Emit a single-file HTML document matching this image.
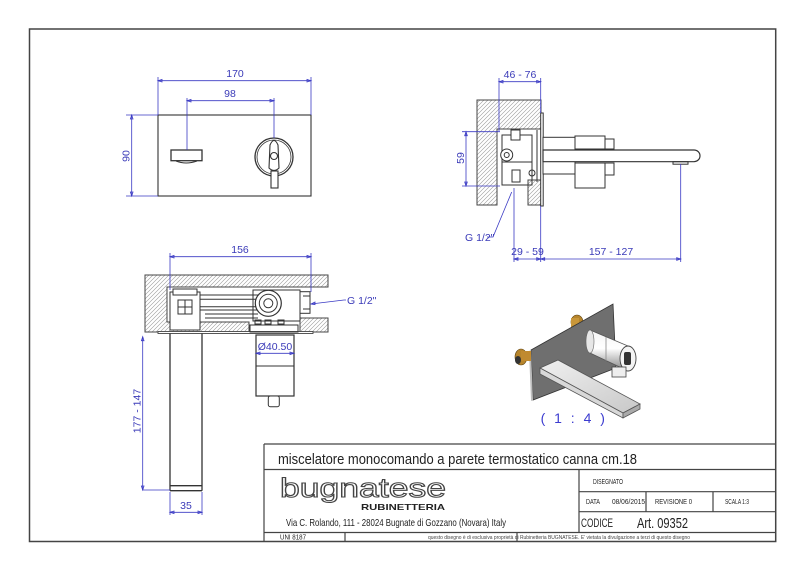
<!DOCTYPE html>
<html><head><meta charset="utf-8"><style>
html,body{margin:0;padding:0;background:#fff;}
svg{display:block;}
text{font-family:"Liberation Sans",sans-serif;}
</style></head><body>
<svg width="800" height="566" viewBox="0 0 800 566" xmlns="http://www.w3.org/2000/svg">
<defs>
<pattern id="h" patternUnits="userSpaceOnUse" width="4" height="4">
<path d="M-1,1 l2,-2 M0,4 l4,-4 M3,5 l2,-2" stroke="#9a9a9a" stroke-width="0.6"/>
</pattern>
<linearGradient id="cyl" x1="0" y1="0" x2="0" y2="1">
<stop offset="0" stop-color="#f4f4f4"/><stop offset="0.45" stop-color="#ffffff"/><stop offset="0.8" stop-color="#b0b0b0"/><stop offset="1" stop-color="#808080"/>
</linearGradient>
<linearGradient id="sp" x1="0" y1="0" x2="1" y2="1">
<stop offset="0" stop-color="#f0f0f0"/><stop offset="1" stop-color="#c8c8c8"/>
</linearGradient>
</defs>

<!-- frame -->
<rect x="29.5" y="29" width="746.2" height="512.5" fill="none" stroke="#444" stroke-width="1.5"/>

<!-- ================= FRONT VIEW ================= -->
<g stroke="#333" fill="none" stroke-width="1.1">
<rect x="158" y="115" width="153" height="81"/>
<rect x="171" y="150" width="31" height="10.7" stroke-width="1.3"/>
<path d="M176,161 Q186,165 197,161" stroke-width="1"/>
<circle cx="274" cy="157" r="19" stroke-width="1.3"/>
<circle cx="274" cy="157" r="17" stroke-width="0.8"/>
<path d="M270,145 Q274,136 278,145 L279,168 Q274,173 269,168 Z" fill="#fff"/>
<circle cx="274" cy="156" r="3.5"/>
<rect x="271" y="171" width="7" height="17" fill="#fff"/>
</g>
<g stroke="#3a3ac4" stroke-width="0.8" fill="none">
<path d="M158,77 V115 M311,77 V115 M158,80.7 H311"/>
<path d="M187,98 V150 M274,98 V138 M187,100.7 H274"/>
<path d="M126,115 H158 M126,196 H158 M131.7,115 V196"/>
<path d="M158,80.7 l4,-1.3 v2.6 z M311,80.7 l-4,-1.3 v2.6 z M187,100.7 l4,-1.3 v2.6 z M274,100.7 l-4,-1.3 v2.6 z M131.7,115 l-1.3,4 h2.6 z M131.7,196 l-1.3,-4 h2.6 z"/>
</g>
<g fill="#3a3ab8" font-size="10.5">
<text x="235" y="77" text-anchor="middle">170</text>
<text x="230" y="97" text-anchor="middle">98</text>
<text transform="translate(129.5,156) rotate(-90)" text-anchor="middle">90</text>
</g>

<!-- ================= SIDE VIEW ================= -->
<path d="M477,100 H541 V129 H497 V205 H477 Z" fill="url(#h)" stroke="#444" stroke-width="1"/>
<rect x="528" y="180" width="13" height="25" fill="url(#h)" stroke="#444" stroke-width="1"/>
<g stroke="#333" fill="none" stroke-width="1">
<rect x="540.7" y="113" width="2.5" height="93" fill="#fff"/>
<rect x="502" y="135" width="30" height="50"/>
<rect x="511" y="130" width="9" height="10" fill="#fff"/>
<circle cx="506.7" cy="155" r="6" fill="#fff"/>
<circle cx="506.7" cy="155" r="2.5"/>
<rect x="512" y="170" width="8" height="12"/>
<circle cx="532" cy="173" r="3"/>
<path d="M537,130 V182 M502,162 H532"/>
<rect x="543" y="137.3" width="32" height="36.7" fill="#fff"/>
<rect x="575" y="136" width="30" height="13" fill="#fff"/>
<rect x="575" y="163" width="30" height="25" fill="#fff"/>
<rect x="605" y="139" width="9" height="10" fill="#fff"/>
<rect x="605" y="163" width="9" height="12" fill="#fff"/>
<path d="M543,150 H694 A6,5.85 0 0 1 694,161.7 H543 Z" fill="#fff" stroke-width="1.2"/>
<rect x="673" y="161.7" width="15" height="2.5"/>
</g>
<g stroke="#3a3ac4" stroke-width="0.8" fill="none">
<path d="M499,78 V131 M540.7,78 V113 M499,81.7 H540.7"/>
<path d="M462,131.7 H500 M462,186 H500 M466,131.7 V186"/>
<path d="M514,188 V262 M540.7,206 V262 M680.7,164 V262 M514,259 H680.7"/>
<path d="M487,237 H493 L511.7,192"/>
<path d="M499,81.7 l4,-1.3 v2.6 z M540.7,81.7 l-4,-1.3 v2.6 z M466,131.7 l-1.3,4 h2.6 z M466,186 l-1.3,-4 h2.6 z M514,259 l4,-1.3 v2.6 z M540.7,259 l-4,-1.3 v2.6 z M540.7,259 l4,-1.3 v2.6 z M680.7,259 l-4,-1.3 v2.6 z"/>
</g>
<g fill="#3a3ab8" font-size="10.5">
<text x="520" y="78" text-anchor="middle">46 - 76</text>
<text transform="translate(464,158) rotate(-90)" text-anchor="middle">59</text>
<text x="465" y="241">G 1/2"</text>
<text x="527.5" y="255" text-anchor="middle">29 - 59</text>
<text x="611" y="255" text-anchor="middle">157 - 127</text>
</g>

<!-- ================= BOTTOM VIEW ================= -->
<path d="M145,275 H328 V287 H167 V322 H249 V332 H145 Z" fill="url(#h)" stroke="#444" stroke-width="1"/>
<rect x="300" y="318" width="28" height="14" fill="url(#h)" stroke="#444" stroke-width="1"/>
<rect x="158" y="331.5" width="155" height="2" fill="#fff" stroke="#444" stroke-width="0.9"/>
<g stroke="#333" fill="none" stroke-width="1">
<rect x="170" y="292" width="30" height="38" fill="#fff"/>
<rect x="173" y="289" width="24" height="6" fill="#fff"/>
<rect x="178" y="300" width="14" height="14"/>
<path d="M185,300 V314 M178,307 H192"/>
<path d="M200,295 H258 M200,299.3 H258 M200,306.7 H258 M200,310 H258 M205,314 H258 M205,318 H258"/>
<rect x="253" y="290" width="47" height="31"/>
<circle cx="268.3" cy="303.3" r="13" fill="#fff" stroke-width="1.2"/>
<circle cx="268.3" cy="303.3" r="9"/>
<circle cx="268.3" cy="303.3" r="4.5"/>
<rect x="300" y="291.7" width="10" height="21.6" fill="#fff"/>
<path d="M303,296 H310 M303,309 H310"/>
<rect x="255" y="320" width="6" height="4"/><rect x="265" y="320" width="6" height="4"/><rect x="278" y="320" width="6" height="4"/>
<rect x="250" y="325" width="48" height="7"/>
<path d="M170,333.5 V490.7 M202,333.5 V490.7 M170,485.7 H202 M170,490.7 H202" stroke-width="1.3"/>
<rect x="256" y="335" width="38" height="61" fill="#fff" stroke-width="1.2"/>
<path d="M256,366 H294"/>
<rect x="268.3" y="396" width="11" height="10.7" rx="2" fill="#fff"/>
</g>
<g stroke="#3a3ac4" stroke-width="0.8" fill="none">
<path d="M170,253 V290 M311,253 V292 M170,256.7 H311"/>
<path d="M311,304 L344,300 H346"/>
<path d="M256,353.3 H294"/>
<path d="M142.7,336.7 V490 H170"/>
<path d="M170,492 V515 M202,492 V515 M170,512.3 H202"/>
<path d="M170,256.7 l4,-1.3 v2.6 z M311,256.7 l-4,-1.3 v2.6 z M311,304 l4,-2 v2.6 z M256,353.3 l4,-1.3 v2.6 z M294,353.3 l-4,-1.3 v2.6 z M142.7,336.7 l-1.3,4 h2.6 z M142.7,490 l-1.3,-4 h2.6 z M170,512.3 l4,-1.3 v2.6 z M202,512.3 l-4,-1.3 v2.6 z"/>
</g>
<g fill="#3a3ab8" font-size="10.5">
<text x="240" y="253" text-anchor="middle">156</text>
<text x="347" y="304">G 1/2"</text>
<text x="275" y="350" text-anchor="middle">Ø40.50</text>
<text transform="translate(140.5,411) rotate(-90)" text-anchor="middle">177 - 147</text>
<text x="186" y="509" text-anchor="middle">35</text>
</g>

<!-- ================= 3D VIEW ================= -->
<g>
<ellipse cx="577" cy="322" rx="6" ry="7" fill="#b7852c" stroke="#5a4010" stroke-width="0.6"/>
<rect x="571" y="318" width="8" height="9" fill="#c9973a"/>
<polygon points="531,350 613,304 616,368 533,400" fill="#6f6f6f" stroke="#333" stroke-width="0.8"/>
<polygon points="529,351 531,350 533,400 531,401" fill="#bdbdbd"/>
<ellipse cx="521" cy="357" rx="6" ry="8" fill="#b7852c" stroke="#5a4010" stroke-width="0.6"/>
<ellipse cx="518" cy="360" rx="3" ry="4" fill="#333"/>
<rect x="521" y="351" width="10" height="10" fill="#c08a30"/>
<polygon points="590,330 628,346 628,371 590,353" fill="url(#cyl)" stroke="#555" stroke-width="0.8"/>
<ellipse cx="590" cy="341.5" rx="4" ry="11.5" fill="#e6e6e6" stroke="#666" stroke-width="0.6"/>
<path d="M606,337 V361" stroke="#888" stroke-width="0.8"/>
<ellipse cx="628" cy="358.5" rx="8" ry="12.5" fill="#f4f4f4" stroke="#444" stroke-width="0.9"/>
<rect x="624" y="352" width="7" height="13" rx="2" fill="#333"/>
<rect x="612" y="367" width="14" height="10" fill="#eee" stroke="#444" stroke-width="0.8"/>
<polygon points="540,368 558,360 640,404 623,413" fill="url(#sp)" stroke="#555" stroke-width="0.8"/>
<polygon points="540,368 623,413 623,418 540,374" fill="#d8d8d8" stroke="#555" stroke-width="0.8"/>
<polygon points="623,413 640,404 640,409 623,418" fill="#aaa" stroke="#555" stroke-width="0.8"/>
<text x="574" y="423" text-anchor="middle" font-size="14" letter-spacing="2.5" fill="#3c3cd0">( 1 : 4 )</text>
</g>

<!-- ================= TITLE BLOCK ================= -->
<g stroke="#444" stroke-width="1.2" fill="none">
<path d="M264,444 H776 M264,444 V541.5 M264,469.5 H776 M264,532.5 H776"/>
<path d="M579,469.5 V532.5 M579,491.7 H776 M579,511.7 H776 M646,491.7 V511.7 M713,491.7 V511.7 M345,532.5 V541.5 M517,532.5 V541.5"/>
</g>
<g fill="#222">
<text x="278" y="464" font-size="14.5" textLength="359" lengthAdjust="spacingAndGlyphs">miscelatore monocomando a parete termostatico canna cm.18</text>
<text x="280" y="497" font-size="27" fill="#fff" stroke="#444" stroke-width="1.1" textLength="166" lengthAdjust="spacingAndGlyphs">bugnatese</text>
<text x="361" y="510" font-size="8.5" font-weight="bold" textLength="84" lengthAdjust="spacingAndGlyphs">RUBINETTERIA</text>
<text x="286" y="526" font-size="10.5" textLength="220" lengthAdjust="spacingAndGlyphs">Via C. Rolando, 111 - 28024 Bugnate di Gozzano (Novara) Italy</text>
<text x="280" y="539.5" font-size="7" textLength="26" lengthAdjust="spacingAndGlyphs">UNI 8187</text>
<text x="428" y="539" font-size="5" fill="#444" textLength="262" lengthAdjust="spacingAndGlyphs">questo disegno è di esclusiva proprietà di Rubinetteria BUGNATESE. E' vietata la divulgazione a terzi di questo disegno</text>
<text x="593" y="484" font-size="7" textLength="30" lengthAdjust="spacingAndGlyphs">DISEGNATO</text>
<text x="586" y="504" font-size="7" textLength="14" lengthAdjust="spacingAndGlyphs">DATA</text>
<text x="612" y="504" font-size="7" textLength="33" lengthAdjust="spacingAndGlyphs">08/06/2015</text>
<text x="655" y="504" font-size="7" textLength="37" lengthAdjust="spacingAndGlyphs">REVISIONE 0</text>
<text x="725" y="504" font-size="7" textLength="24" lengthAdjust="spacingAndGlyphs">SCALA 1:3</text>
<text x="581" y="527" font-size="12" textLength="32" lengthAdjust="spacingAndGlyphs">CODICE</text>
<text x="637" y="528" font-size="15" textLength="51" lengthAdjust="spacingAndGlyphs">Art. 09352</text>
</g>
</svg>
</body></html>
